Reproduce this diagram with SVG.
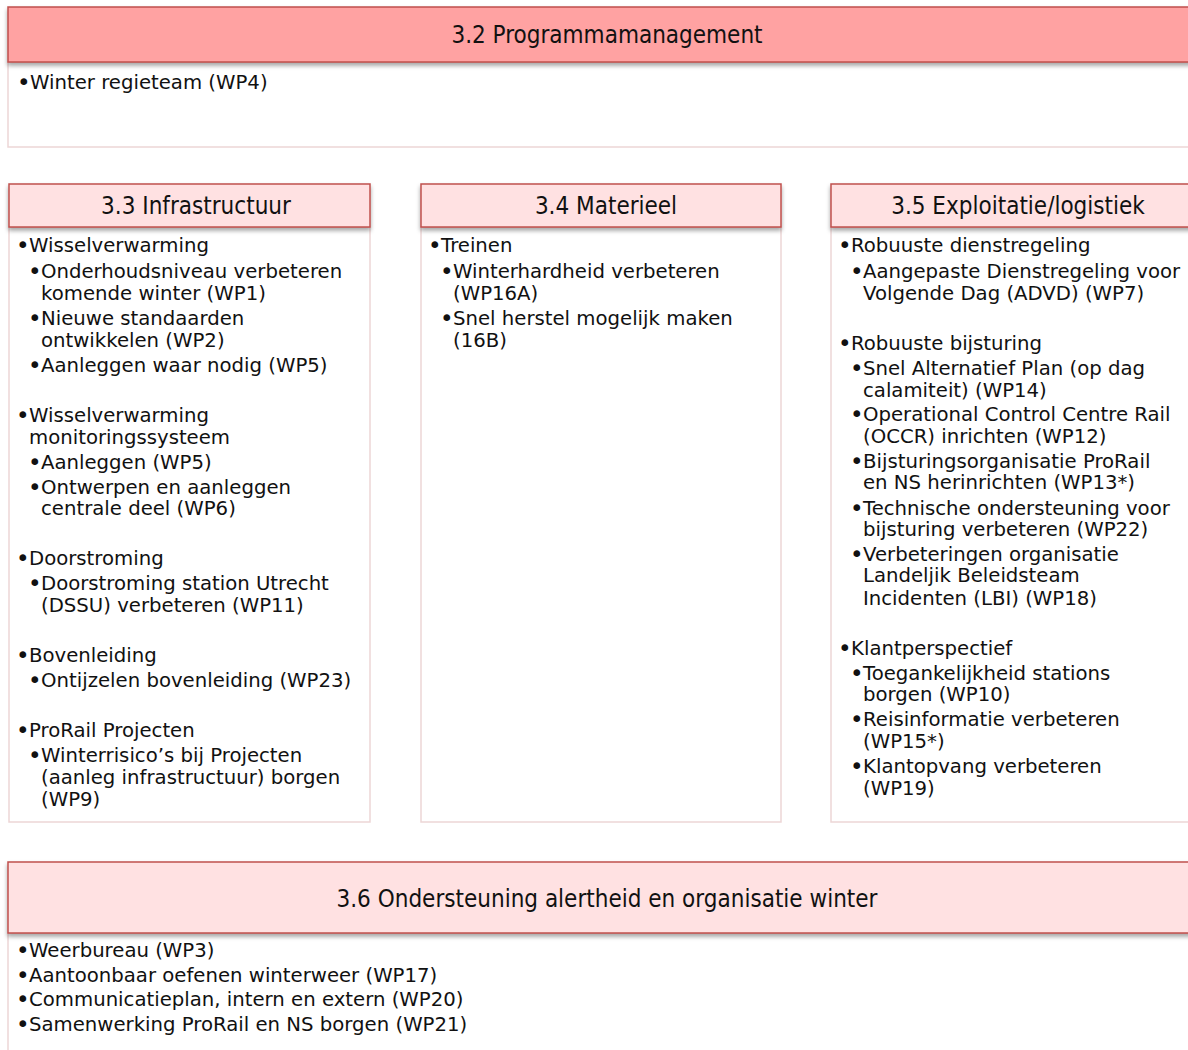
<svg xmlns="http://www.w3.org/2000/svg" width="1188" height="1050" viewBox="0 0 1188 1050">
<defs>
<filter id="sh" x="-5%" y="-20%" width="110%" height="160%">
<feDropShadow dx="0" dy="3" stdDeviation="2" flood-color="#000" flood-opacity="0.35"/>
</filter>
</defs>
<style>
.hdr1{fill:#FFA2A2;stroke:#C0504D;stroke-width:1.5}
.hdr2{fill:#FFE1E2;stroke:#C0504D;stroke-width:1.5}
.body{fill:#FFFFFF;stroke:#EDD6D6;stroke-width:1.5}
.ht{font-family:'DejaVu Sans Condensed','DejaVu Sans',sans-serif;font-size:24px;fill:#111;text-anchor:middle}
.t{font-family:Verdana,'DejaVu Sans',sans-serif;font-size:19.7px;fill:#111}
.b{font-family:Verdana,'DejaVu Sans',sans-serif;font-size:23px;fill:#111}
</style>
<rect width="1188" height="1050" fill="#FFFFFF"/>

<g id="programmamanagement">
<rect class="body" x="8" y="62" width="1190" height="85"/>
<rect class="hdr1" x="8" y="7" width="1190" height="55" filter="url(#sh)"/>
<text class="ht" x="607" y="43">3.2 Programmamanagement</text>
<text class="b" x="17" y="90">•</text><text class="t" x="30" y="89">Winter regieteam (WP4)</text>
</g>

<g id="infrastructuur">
<rect class="body" x="9" y="227" width="361" height="595"/>
<rect class="hdr2" x="9" y="184" width="361" height="43" filter="url(#sh)"/>
<text class="ht" x="196" y="214">3.3 Infrastructuur</text>
<text class="b" x="16" y="253">•</text><text class="t" x="29" y="252">Wisselverwarming</text>
<text class="b" x="28" y="279">•</text><text class="t" x="41" y="278">Onderhoudsniveau verbeteren</text>
<text class="t" x="41" y="300">komende winter (WP1)</text>
<text class="b" x="28" y="326">•</text><text class="t" x="41" y="325">Nieuwe standaarden</text>
<text class="t" x="41" y="347">ontwikkelen (WP2)</text>
<text class="b" x="28" y="373">•</text><text class="t" x="41" y="372">Aanleggen waar nodig (WP5)</text>
<text class="b" x="16" y="423">•</text><text class="t" x="29" y="422">Wisselverwarming</text>
<text class="t" x="29" y="444">monitoringssysteem</text>
<text class="b" x="28" y="470">•</text><text class="t" x="41" y="469">Aanleggen (WP5)</text>
<text class="b" x="28" y="495">•</text><text class="t" x="41" y="494">Ontwerpen en aanleggen</text>
<text class="t" x="41" y="515">centrale deel (WP6)</text>
<text class="b" x="16" y="566">•</text><text class="t" x="29" y="565">Doorstroming</text>
<text class="b" x="28" y="591">•</text><text class="t" x="41" y="590">Doorstroming station Utrecht</text>
<text class="t" x="41" y="612">(DSSU) verbeteren (WP11)</text>
<text class="b" x="16" y="663">•</text><text class="t" x="29" y="662">Bovenleiding</text>
<text class="b" x="28" y="688">•</text><text class="t" x="41" y="687">Ontijzelen bovenleiding (WP23)</text>
<text class="b" x="16" y="738">•</text><text class="t" x="29" y="737">ProRail Projecten</text>
<text class="b" x="28" y="763">•</text><text class="t" x="41" y="762">Winterrisico’s bij Projecten</text>
<text class="t" x="41" y="784">(aanleg infrastructuur) borgen</text>
<text class="t" x="41" y="806">(WP9)</text>
</g>

<g id="materieel">
<rect class="body" x="421" y="227" width="360" height="595"/>
<rect class="hdr2" x="421" y="184" width="360" height="43" filter="url(#sh)"/>
<text class="ht" x="606" y="214">3.4 Materieel</text>
<text class="b" x="428" y="253">•</text><text class="t" x="441" y="252">Treinen</text>
<text class="b" x="440" y="279">•</text><text class="t" x="453" y="278">Winterhardheid verbeteren</text>
<text class="t" x="453" y="300">(WP16A)</text>
<text class="b" x="440" y="326">•</text><text class="t" x="453" y="325">Snel herstel mogelijk maken</text>
<text class="t" x="453" y="347">(16B)</text>
</g>

<g id="exploitatie">
<rect class="body" x="831" y="227" width="362" height="595"/>
<rect class="hdr2" x="831" y="184" width="362" height="43" filter="url(#sh)"/>
<text class="ht" x="1018" y="214">3.5 Exploitatie/logistiek</text>
<text class="b" x="838" y="253">•</text><text class="t" x="851" y="252">Robuuste dienstregeling</text>
<text class="b" x="850" y="279">•</text><text class="t" x="863" y="278">Aangepaste Dienstregeling voor</text>
<text class="t" x="863" y="300">Volgende Dag (ADVD) (WP7)</text>
<text class="b" x="838" y="351">•</text><text class="t" x="851" y="350">Robuuste bijsturing</text>
<text class="b" x="850" y="376">•</text><text class="t" x="863" y="375">Snel Alternatief Plan (op dag</text>
<text class="t" x="863" y="397">calamiteit) (WP14)</text>
<text class="b" x="850" y="422">•</text><text class="t" x="863" y="421">Operational Control Centre Rail</text>
<text class="t" x="863" y="443">(OCCR) inrichten (WP12)</text>
<text class="b" x="850" y="469">•</text><text class="t" x="863" y="468">Bijsturingsorganisatie ProRail</text>
<text class="t" x="863" y="489">en NS herinrichten (WP13*)</text>
<text class="b" x="850" y="516">•</text><text class="t" x="863" y="515">Technische ondersteuning voor</text>
<text class="t" x="863" y="536">bijsturing verbeteren (WP22)</text>
<text class="b" x="850" y="562">•</text><text class="t" x="863" y="561">Verbeteringen organisatie</text>
<text class="t" x="863" y="582">Landeljik Beleidsteam</text>
<text class="t" x="863" y="605">Incidenten (LBI) (WP18)</text>
<text class="b" x="838" y="656">•</text><text class="t" x="851" y="655">Klantperspectief</text>
<text class="b" x="850" y="681">•</text><text class="t" x="863" y="680">Toegankelijkheid stations</text>
<text class="t" x="863" y="701">borgen (WP10)</text>
<text class="b" x="850" y="727">•</text><text class="t" x="863" y="726">Reisinformatie verbeteren</text>
<text class="t" x="863" y="748">(WP15*)</text>
<text class="b" x="850" y="774">•</text><text class="t" x="863" y="773">Klantopvang verbeteren</text>
<text class="t" x="863" y="795">(WP19)</text>
</g>

<g id="ondersteuning">
<rect class="body" x="8" y="933" width="1190" height="130"/>
<rect class="hdr2" x="8" y="862" width="1190" height="71" filter="url(#sh)"/>
<text class="ht" x="607" y="907">3.6 Ondersteuning alertheid en organisatie winter</text>
<text class="b" x="16" y="958">•</text><text class="t" x="29" y="957">Weerbureau (WP3)</text>
<text class="b" x="16" y="983">•</text><text class="t" x="29" y="982">Aantoonbaar oefenen winterweer (WP17)</text>
<text class="b" x="16" y="1007">•</text><text class="t" x="29" y="1006">Communicatieplan, intern en extern (WP20)</text>
<text class="b" x="16" y="1032">•</text><text class="t" x="29" y="1031">Samenwerking ProRail en NS borgen (WP21)</text>
</g>
</svg>
